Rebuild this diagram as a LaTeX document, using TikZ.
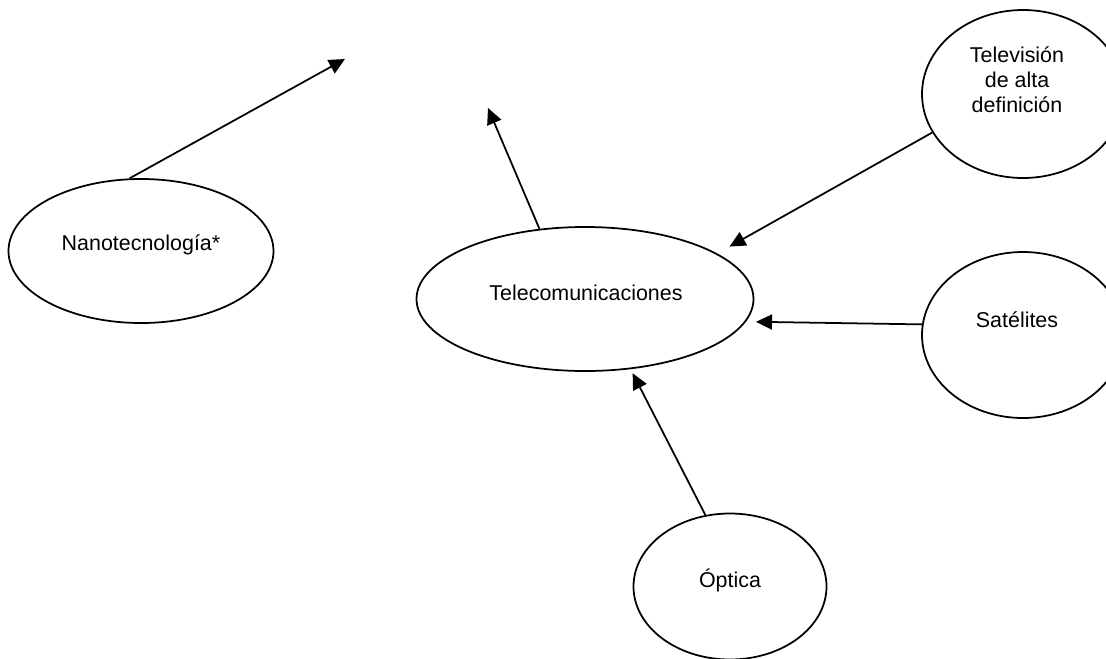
\documentclass[tikz,border=0pt]{standalone}
\usepackage{fontspec}
\setmainfont{Liberation Sans}
\usepackage{tikz}
\usetikzlibrary{arrows.meta}
\usetikzlibrary{positioning}
\usetikzlibrary{shapes.geometric}
\usetikzlibrary{calc}
\begin{document}
\begin{tikzpicture}[
  tema/.style={ellipse,draw=black,line width=1pt,inner sep=0pt},
  texto/.style={font=\fontsize{12.2}{14.2}\selectfont,align=center},
  flecha/.style={line width=1pt,-{Triangle[length=0.32cm,width=0.3cm]}}]
  \useasboundingbox (0,0) rectangle (22.12,-13.16);
  \node[tema,minimum width=5.30cm,minimum height=2.88cm] (nano) at (2.82,-5.02) {};
  \node[tema,minimum width=6.74cm,minimum height=2.88cm] (tele) at (11.70,-5.98) {};
  \node[tema,minimum width=4.04cm,minimum height=3.36cm] (tv) at (20.46,-1.88) {};
  \node[tema,minimum width=4.04cm,minimum height=3.32cm] (sat) at (20.46,-6.70) {};
  \node[tema,minimum width=3.86cm,minimum height=2.92cm] (opt) at (14.60,-11.73) {};
  \node[texto] (nanoT) at (2.82,-4.90) {Nanotecnología*};
  \node[texto] (teleT) at (11.72,-5.86) {Telecomunicaciones};
  \node[texto] (tvT) at (20.34,-1.60) {Televisión\\de alta\\definición};
  \node[texto] (satT) at (20.34,-6.40) {Satélites};
  \node[texto] (optT) at (14.60,-11.60) {Óptica};
  \coordinate (c1) at (6.90,-1.18);
  \coordinate (c2) at (9.76,-2.16);
  \draw[flecha] (nano.99) -- (c1);
  \draw[flecha] (tele.123) -- (c2);
  \draw[flecha,shorten >=0.28cm] (tv.203) -- (tele.19);
  \draw[flecha,shorten >=0.2cm] (sat.174) -- (tele.-8);
  \draw[flecha,shorten >=0.09cm] (opt.109) -- (tele.-57);
\end{tikzpicture}
\end{document}
